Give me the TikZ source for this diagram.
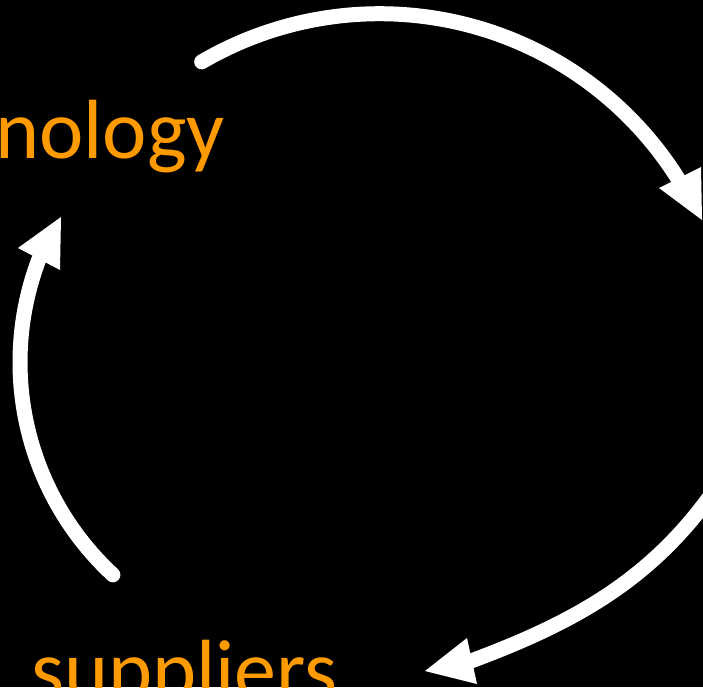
\documentclass[tikz,border=0pt]{standalone}
\usepackage{fontspec}
\setmainfont{Carlito}
\usetikzlibrary{arrows.meta}
\definecolor{labelorange}{HTML}{FF9A00}
\tikzset{
  shaft/.style={draw=white, line width=15pt, line cap=round, line join=round},
  headtri/.style={fill=white, draw=none},
  lbl/.style={text=labelorange, inner sep=0pt, anchor=base west, font=\fontsize{84}{100}\selectfont}
}
\begin{document}
\begin{tikzpicture}[x=1pt,y=-1pt]
\fill[black] (0,0) rectangle (703,687);
\useasboundingbox (0,0) rectangle (703,687);
\clip (0,0) rectangle (703,687);
% labels
\node[lbl] (tech) at (-5,159) {nology};
\node[lbl] (supp) at (31,698) {suppliers};
% named points
\coordinate (rightstart) at (714.6,489.9);
\coordinate (rightend) at (471,661);
% top arc
\draw[shaft] plot[domain=-120.3:-32.2, samples=90, smooth] ({379.5+352.5*cos(\x)},{366.2+352.5*sin(\x)});
\fill[headtri] (659,188) -- (701,167) -- (702,220) -- cycle;
% right arc
\draw[shaft] (rightstart) .. controls (651.5,580) and (574.1,622.6) .. (rightend);
\fill[headtri] (467,638) -- (477,684) -- (425,671) -- cycle;
% left arc
\draw[shaft] plot[domain=132.8:200.9, samples=80, smooth] ({309.8+289.8*cos(\x)},{362.2+289.8*sin(\x)});
\fill[headtri] (18,248) -- (60,270) -- (61,217) -- cycle;
\end{tikzpicture}
\end{document}
